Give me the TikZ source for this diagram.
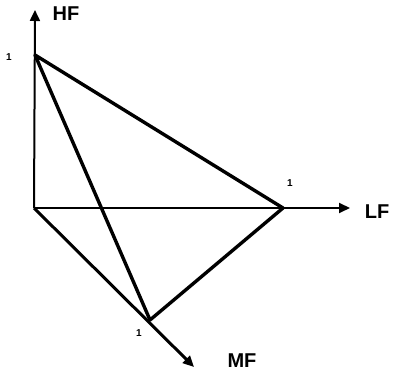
\documentclass[tikz,border=0pt]{standalone}
\usepackage{fontspec}
\setmainfont{Liberation Sans}
\usetikzlibrary{arrows.meta}
\begin{document}
\begin{tikzpicture}[x=1pt,y=-1pt,
  axis/.style={line width=2pt,-{Triangle[length=11pt,width=10pt]}},
  edge/.style={line width=3.4pt,line cap=round,line join=round},
  axlabel/.style={font=\bfseries\fontsize{20}{20}\selectfont,inner sep=0pt},
  onelabel/.style={font=\bfseries\fontsize{10}{10}\selectfont,inner sep=0pt}]
\useasboundingbox (0,0) rectangle (394,374);
\coordinate (O) at (34,208);
\coordinate (H) at (35,55);
\coordinate (L) at (283,208);
\coordinate (M) at (150,320);
\coordinate (HT) at (35,10);
\coordinate (LT) at (350,208);
\coordinate (MT) at (194,367);
\draw[axis] (O) -- (HT);
\draw[axis] (O) -- (LT);
\draw[axis,line width=3pt] (O) -- (MT);
\draw[edge] (H) -- (L) -- (M) -- cycle;
\node[axlabel] (hf) at (66,14) {HF};
\node[axlabel] (lf) at (377,212) {LF};
\node[axlabel] (mf) at (242,361) {MF};
\node[onelabel] (h1) at (9,57) {1};
\node[onelabel] (l1) at (290,183) {1};
\node[onelabel] (m1) at (139,333) {1};
\end{tikzpicture}
\end{document}
